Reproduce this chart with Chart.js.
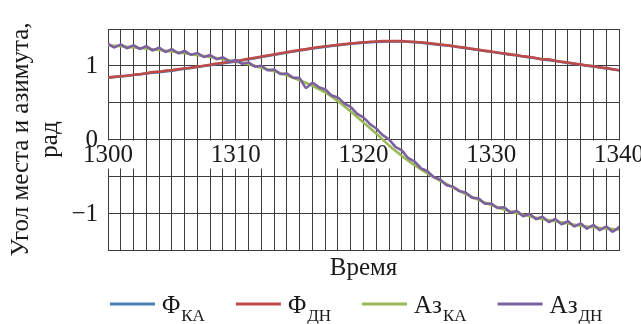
<!DOCTYPE html>
<html>
<head>
<meta charset="utf-8">
<script src="https://cdn.jsdelivr.net/npm/chart.js@4/dist/chart.umd.min.js"></script>
<style>
  body { margin: 0; background: #fff; }
</style>
</head>
<body>
<canvas id="myChart" width="641" height="324"></canvas>
<script>
// time grid
const timeInt = [1300, 1301, 1302, 1303, 1304, 1305, 1306, 1307, 1308, 1309, 1310,
  1311, 1312, 1313, 1314, 1315, 1316, 1317, 1318, 1319, 1320,
  1321, 1322, 1323, 1324, 1325, 1326, 1327, 1328, 1329, 1330,
  1331, 1332, 1333, 1334, 1335, 1336, 1337, 1338, 1339, 1340];
const timeHalf = [1300, 1300.5, 1301, 1301.5, 1302, 1302.5, 1303, 1303.5, 1304, 1304.5,
  1305, 1305.5, 1306, 1306.5, 1307, 1307.5, 1308, 1308.5, 1309, 1309.5,
  1310, 1310.5, 1311, 1311.5, 1312, 1312.5, 1313, 1313.5, 1314, 1314.5,
  1315, 1315.5, 1316, 1316.5, 1317, 1317.5, 1318, 1318.5, 1319, 1319.5,
  1320, 1320.5, 1321, 1321.5, 1322, 1322.5, 1323, 1323.5, 1324, 1324.5,
  1325, 1325.5, 1326, 1326.5, 1327, 1327.5, 1328, 1328.5, 1329, 1329.5,
  1330, 1330.5, 1331, 1331.5, 1332, 1332.5, 1333, 1333.5, 1334, 1334.5,
  1335, 1335.5, 1336, 1336.5, 1337, 1337.5, 1338, 1338.5, 1339, 1339.5, 1340];

// Φ КА (smooth)
const phiKA = [0.84, 0.855, 0.875, 0.895, 0.915, 0.935, 0.96, 0.985, 1.01, 1.035, 1.06,
  1.09, 1.12, 1.15, 1.18, 1.21, 1.235, 1.26, 1.28, 1.30, 1.315,
  1.325, 1.33, 1.33, 1.32, 1.305, 1.285, 1.265, 1.24, 1.215, 1.19,
  1.165, 1.14, 1.115, 1.09, 1.065, 1.04, 1.015, 0.99, 0.965, 0.94];

// Φ ДН (measured)
const phiDN = [0.845, 0.85, 0.86, 0.865, 0.88, 0.885, 0.90, 0.915, 0.92, 0.935,
  0.94, 0.955, 0.965, 0.975, 0.99, 1.0, 1.015, 1.03, 1.04, 1.055,
  1.065, 1.08, 1.095, 1.11, 1.125, 1.14, 1.155, 1.17, 1.185, 1.2,
  1.215, 1.225, 1.24, 1.255, 1.265, 1.275, 1.285, 1.295, 1.305, 1.31,
  1.32, 1.325, 1.33, 1.335, 1.335, 1.335, 1.335, 1.33, 1.325, 1.32,
  1.31, 1.30, 1.29, 1.28, 1.27, 1.255, 1.245, 1.23, 1.22, 1.205,
  1.195, 1.18, 1.17, 1.155, 1.145, 1.13, 1.12, 1.105, 1.085, 1.09,
  1.07, 1.055, 1.045, 1.03, 1.02, 1.005, 0.995, 0.98, 0.97, 0.955, 0.94];

// Аз КА (smooth)
const azKA = [1.28, 1.265, 1.25, 1.235, 1.215, 1.195, 1.17, 1.145, 1.12, 1.09, 1.055,
  1.02, 0.975, 0.925, 0.87, 0.805, 0.73, 0.64, 0.52, 0.38, 0.23,
  0.08, -0.08, -0.22, -0.35, -0.46, -0.56, -0.65, -0.74, -0.82, -0.89,
  -0.95, -1.0, -1.04, -1.08, -1.11, -1.14, -1.17, -1.19, -1.21, -1.22];

// Аз ДН (measured, wobbly)
const azDN = [1.30, 1.25, 1.29, 1.24, 1.28, 1.23, 1.265, 1.21, 1.245, 1.19,
  1.225, 1.17, 1.20, 1.15, 1.175, 1.12, 1.145, 1.09, 1.115, 1.06,
  1.08, 1.03, 1.045, 0.99, 1.0, 0.94, 0.95, 0.89, 0.895, 0.84,
  0.83, 0.70, 0.77, 0.71, 0.68, 0.60, 0.57, 0.49, 0.44, 0.35,
  0.30, 0.21, 0.15, 0.06, 0.0, -0.10, -0.15, -0.25, -0.30, -0.39,
  -0.43, -0.51, -0.54, -0.62, -0.64, -0.70, -0.72, -0.79, -0.80, -0.87,
  -0.87, -0.93, -0.92, -0.99, -0.97, -1.04, -1.01, -1.08, -1.05, -1.12,
  -1.08, -1.15, -1.11, -1.18, -1.14, -1.21, -1.16, -1.23, -1.18, -1.25, -1.19];

const seriesNames = [['Φ', 'КА'], ['Φ', 'ДН'], ['Аз', 'КА'], ['Аз', 'ДН']];
const seriesColors = ['#4a7ebb', '#be4b48', '#98b954', '#7d60a0'];

const xTicks = [1300, 1310, 1320, 1330, 1340];
const yTicks = [-1, 0, 1];
const xTitle = 'Время';
const yTitle = ['Угол места и азимута,', 'рад'];

function pts(xs, ys) {
  return xs.map(function(x, i) { return { x: x, y: ys[i] }; });
}

const ink = '#1a1a1a';
const gridColor = '#3c3c3c';
const mainFont = '25px Liberation Serif';
const subFont = '17px Liberation Serif';

// axis labels and titles, placed through the chart's scales
const axisText = {
  id: 'axisText',
  beforeDatasetsDraw: function(chart) {
    const c = chart.ctx;
    const xs = chart.scales.x;
    const ys = chart.scales.y;
    const area = chart.chartArea;
    const zeroY = ys.getPixelForValue(0);
    c.save();
    c.font = mainFont;
    c.fillStyle = ink;

    // time labels on the zero line, with a white backdrop over the grid
    c.textAlign = 'center';
    c.textBaseline = 'top';
    xTicks.forEach(function(v) {
      const px = xs.getPixelForValue(v);
      const label = String(v);
      const w = c.measureText(label).width;
      c.fillStyle = '#fff';
      c.fillRect(px - w / 2 - 2, zeroY + 1, w + 4, 28);
      c.fillStyle = ink;
      c.fillText(label, px, zeroY + 3);
    });

    // value labels on the left
    c.textAlign = 'right';
    c.textBaseline = 'middle';
    yTicks.forEach(function(v) {
      const label = v < 0 ? '\u2212' + Math.abs(v) : String(v);
      c.fillText(label, area.left - 10, ys.getPixelForValue(v) + 1);
    });

    // x title
    c.textAlign = 'center';
    c.fillText(xTitle, (area.left + area.right) / 2, area.bottom + 18);

    // y title, two rotated lines
    const midY = (area.top + area.bottom) / 2;
    yTitle.forEach(function(line, i) {
      c.save();
      c.translate(21 + i * 29, midY);
      c.rotate(-Math.PI / 2);
      c.fillText(line, 0, 0);
      c.restore();
    });
    c.restore();
  }
};

// legend with subscripts
const subLegend = {
  id: 'subLegend',
  afterDraw: function(chart) {
    const c = chart.ctx;
    let x = 110;
    const y = 304;
    c.save();
    c.textBaseline = 'alphabetic';
    c.textAlign = 'left';
    seriesNames.forEach(function(name, i) {
      c.strokeStyle = seriesColors[i];
      c.lineWidth = 3;
      c.beginPath();
      c.moveTo(x, y);
      c.lineTo(x + 45, y);
      c.stroke();
      x += 52;
      c.fillStyle = ink;
      c.font = mainFont;
      c.fillText(name[0], x, y + 9);
      x += c.measureText(name[0]).width + 1;
      c.font = subFont;
      c.fillText(name[1], x, y + 17);
      x += c.measureText(name[1]).width + 31;
    });
    c.restore();
  }
};

new Chart(document.getElementById('myChart'), {
  type: 'line',
  data: {
    datasets: [
      { data: pts(timeInt, phiKA), borderColor: seriesColors[0], order: 3 },
      { data: pts(timeHalf, phiDN), borderColor: seriesColors[1], order: 2 },
      { data: pts(timeInt, azKA), borderColor: seriesColors[2], order: 3 },
      { data: pts(timeHalf, azDN), borderColor: seriesColors[3], order: 1 }
    ]
  },
  options: {
    responsive: false,
    animation: false,
    elements: {
      point: { radius: 0 },
      line: { borderWidth: 2.6, tension: 0.15, borderCapStyle: 'round', borderJoinStyle: 'round' }
    },
    layout: { padding: { left: 0, right: 22, top: 29, bottom: 74 } },
    plugins: {
      legend: { display: false },
      tooltip: { enabled: false },
      title: { display: false }
    },
    scales: {
      x: {
        type: 'linear',
        position: 'bottom',
        min: 1300,
        max: 1340,
        afterFit: function(s) { s.height = 0; s.paddingLeft = 0; s.paddingRight = 0; },
        ticks: { display: false, stepSize: 1, autoSkip: false },
        grid: { color: gridColor, lineWidth: 1, drawTicks: false },
        border: { display: true, color: gridColor, width: 1 }
      },
      y: {
        position: 'left',
        min: -1.5,
        max: 1.5,
        afterFit: function(s) { s.width = 108; s.paddingTop = 0; s.paddingBottom = 0; },
        ticks: { display: false, stepSize: 0.5 },
        grid: { color: gridColor, lineWidth: 1, drawTicks: false },
        border: { display: true, color: gridColor, width: 1 }
      }
    }
  },
  plugins: [axisText, subLegend]
});
</script>
</body>
</html>
